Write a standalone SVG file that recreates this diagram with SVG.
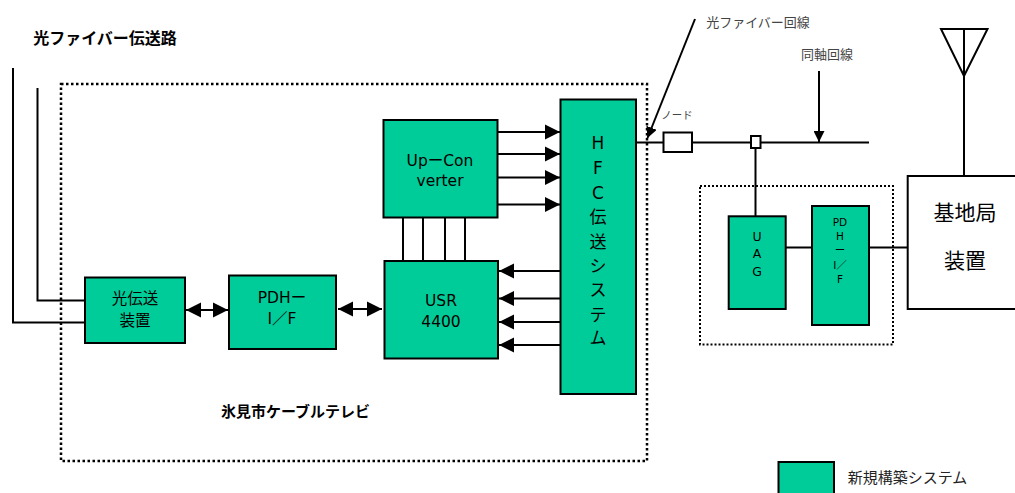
<svg xmlns="http://www.w3.org/2000/svg" width="1015" height="493" viewBox="0 0 1015 493">
<defs>
<marker id="big" markerUnits="userSpaceOnUse" markerWidth="15" markerHeight="16" refX="15" refY="8" orient="auto-start-reverse"><path d="M0,0.5L15,8L0,15.5Z" fill="#000"/></marker>
<marker id="small" markerUnits="userSpaceOnUse" markerWidth="11" markerHeight="11" refX="11" refY="5.500" orient="auto"><path d="M0,0L11,5.500L0,11Z" fill="#000"/></marker>
</defs>
<style>
text{font-family:"DejaVu Sans","Noto Sans CJK JP",sans-serif;text-anchor:middle;fill:#000}
.n{fill:#00cc99;stroke:#000;stroke-width:2}
.w{fill:#fff;stroke:#000;stroke-width:2}
.l{fill:none;stroke:#000;stroke-width:2}
.a{fill:none;stroke:#000;stroke-width:2;marker-end:url(#big)}
.d{fill:none;stroke:#000;stroke-width:2;marker-start:url(#big);marker-end:url(#big)}
.dot{fill:none;stroke:#000;stroke-width:2.5;stroke-dasharray:2.5 2.5}
.dot2{fill:none;stroke:#000;stroke-width:2;stroke-dasharray:2 2}
.t{font-size:15.500px}
.h{font-size:17px}
.u{font-size:12.500px}
.p{font-size:10.500px}
.k{font-size:21px}
.g{font-size:13px;fill:#444}
.b{font-weight:700}
</style>
<g id="frames">
<rect class="dot" x="61" y="84" width="586" height="377"/>
<rect class="dot2" x="700" y="186" width="193" height="158.500"/>
</g>
<g id="connectors">
<path class="l" d="M13,68V322.500H85"/>
<path class="l" d="M37.500,88V300.500H85"/>
<path class="d" d="M186,310H228"/>
<path class="d" d="M338,309H382"/>
<path class="l" d="M403,217V261M423,217V261M445,217V261M465,217V261"/>
<path class="a" d="M498,132H560"/>
<path class="a" d="M498,154H560"/>
<path class="a" d="M498,177.500H560"/>
<path class="a" d="M498,204.500H560"/>
<path class="a" d="M560,271H499"/>
<path class="a" d="M560,298.500H499"/>
<path class="a" d="M560,322H499"/>
<path class="a" d="M560,345H499"/>
<path class="l" d="M634,142.500H869"/>
<path class="l" d="M755.500,148V216"/>
<path class="l" d="M786,247.500H812M869,247.500H908"/>
<path class="l" d="M695,19L647.500,138" marker-end="url(#small)"/>
<path class="l" d="M819,71V142" marker-end="url(#small)"/>
<path class="l" d="M964,28V176"/>
<path class="l" d="M941,29H987.500L964,76Z"/>
</g>
<g id="up-converter"><rect class="n" x="383.500" y="120" width="114" height="97.500"/><text class="t" x="440" y="166">UpーCon</text><text class="t" x="440" y="186">verter</text></g>
<g id="usr4400"><rect class="n" x="384.500" y="261" width="113.500" height="97.500"/><text class="t" x="441" y="306">USR</text><text class="t" x="441" y="327">4400</text></g>
<g id="hfc"><rect class="n" x="560.500" y="99.500" width="75.500" height="294.500"/>
<text class="h" x="598" y="149">H</text><text class="h" x="598" y="174">F</text><text class="h" x="598" y="199">C</text><text class="h" x="598" y="223">伝</text><text class="h" x="598" y="248">送</text><text class="h" x="598" y="272">シ</text><text class="h" x="598" y="296">ス</text><text class="h" x="598" y="321">テ</text><text class="h" x="598" y="344">ム</text></g>
<g id="optical-tx"><rect class="n" x="85" y="277.500" width="100" height="65.500"/><text class="t" x="135" y="304">光伝送</text><text class="t" x="135" y="326">装置</text></g>
<g id="pdh-if"><rect class="n" x="229" y="275.500" width="107" height="73.500"/><text class="t" x="282" y="303">PDHー</text><text class="t" x="282" y="324">I／F</text></g>
<g id="node-box"><rect class="w" x="663.500" y="132.500" width="28.500" height="19.500"/><text class="g" x="677" y="119" style="font-size:10.500px">ノード</text></g>
<g id="tap"><rect class="w" x="751" y="136" width="9.500" height="12"/></g>
<g id="uag"><rect class="n" x="728.700" y="216.300" width="57" height="92.700"/><text class="u" x="757" y="240.500">U</text><text class="u" x="757" y="257.500">A</text><text class="u" x="757" y="275.500">G</text></g>
<g id="pdh-if-2"><rect class="n" x="812" y="206" width="57" height="119"/><text class="p" x="840" y="226">PD</text><text class="p" x="840" y="240">H</text><text class="p" x="840" y="254">ー</text><text class="p" x="840" y="269">I／</text><text class="p" x="840" y="283">F</text></g>
<g id="base-station"><rect class="w" x="907.700" y="176" width="112" height="133"/><text class="k" x="965" y="220">基地局</text><text class="k" x="965" y="268">装置</text></g>
<g id="legend"><rect class="n" x="778.500" y="462" width="55.500" height="40"/><text x="907.500" y="483" style="font-size:15px;fill:#222">新規構築システム</text></g>
<g id="labels">
<text class="b" x="105" y="44" style="font-size:16px">光ファイバー伝送路</text>
<text class="b" x="295.500" y="416.500" style="font-size:15px">氷見市ケーブルテレビ</text>
<text class="g" x="758" y="27">光ファイバー回線</text>
<text class="g" x="827" y="59">同軸回線</text>
</g>
</svg>
